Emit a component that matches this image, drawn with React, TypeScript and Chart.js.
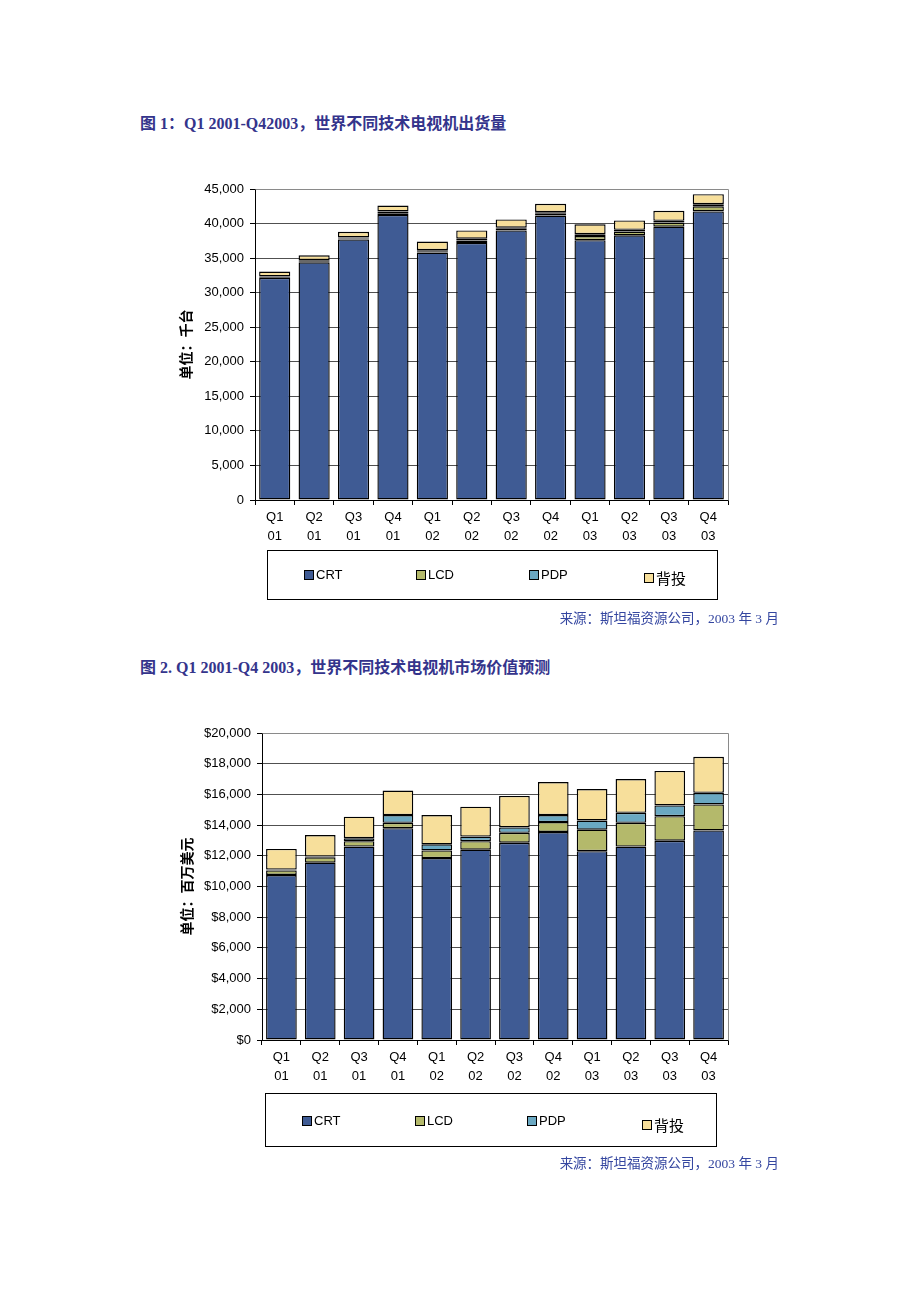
import React, { useEffect, useRef } from "react";
import { Chart, registerables } from "chart.js";

Chart.register(...registerables);

// ---------- data ----------
const categories = ["Q1 01", "Q2 01", "Q3 01", "Q4 01", "Q1 02", "Q2 02", "Q3 02", "Q4 02", "Q1 03", "Q2 03", "Q3 03", "Q4 03"];
const seriesNames = ["CRT", "LCD", "PDP", "背投"];
const seriesColors = ["#3f5b94", "#b4b96b", "#6aa8c2", "#f7df9b"];

// Chart 1: shipments (thousand units)
const unitsCRT = [32150, 34400, 37700, 41250, 35800, 37200, 39000, 41150, 37600, 38300, 39550, 41750];
const unitsLCD = [100, 150, 150, 250, 200, 350, 250, 350, 600, 550, 600, 750];
const unitsPDP = [100, 150, 150, 250, 150, 250, 150, 150, 250, 250, 250, 300];
const unitsRP = [700, 700, 800, 850, 1250, 1200, 1200, 1200, 1450, 1350, 1450, 1450];
const unitsMax = 45000;
const unitsStep = 5000;

// Chart 2: market value (million USD)
const valueCRT = [10750, 11550, 12600, 13800, 11850, 12400, 12850, 13550, 12300, 12600, 12980, 13650];
const valueLCD = [300, 350, 350, 350, 500, 550, 650, 650, 1400, 1550, 1600, 1700];
const valuePDP = [50, 50, 200, 500, 400, 300, 350, 450, 600, 650, 700, 750];
const valueRP = [1350, 1400, 1400, 1600, 1900, 1950, 2050, 2150, 2050, 2200, 2250, 2350];
const valueMax = 20000;
const valueStep = 2000;

const title1 = "图 1：Q1 2001-Q42003，世界不同技术电视机出货量";
const title2 = "图 2. Q1 2001-Q4 2003，世界不同技术电视机市场价值预测";
const yTitle1 = "单位：千台";
const yTitle2 = "单位：百万美元";
const sourceText = "来源：斯坦福资源公司，2003 年 3 月";

// ---------- plugins ----------
const framePlugin = {
  id: "frame",
  afterDraw(chart: any, _args: any, opts: any) {
    const { ctx, chartArea } = chart;
    const { left, top, right, bottom } = chartArea;
    ctx.save();
    ctx.strokeStyle = "#8a8a8a";
    ctx.lineWidth = 1;
    ctx.beginPath();
    ctx.moveTo(Math.round(left) + 0.5, Math.round(top) + 0.5);
    ctx.lineTo(Math.round(right) + 0.5, Math.round(top) + 0.5);
    ctx.lineTo(Math.round(right) + 0.5, Math.round(bottom) + 0.5);
    ctx.stroke();
    ctx.restore();

    // legend box
    const lg = opts.legend;
    if (!lg) return;
    ctx.save();
    ctx.strokeStyle = "#000";
    ctx.lineWidth = 1;
    ctx.strokeRect(lg.x + 0.5, lg.y + 0.5, lg.w, lg.h);
    chart.data.datasets.forEach((ds: any, i: number) => {
      const sx = lg.itemX[i];
      const sy = lg.itemY[i];
      ctx.fillStyle = ds.backgroundColor;
      ctx.fillRect(sx, sy, 10, 10);
      ctx.strokeStyle = "#000";
      ctx.strokeRect(sx + 0.5, sy + 0.5, 9, 9);
      const isCJK = /[\u4e00-\u9fff]/.test(ds.label);
      ctx.fillStyle = "#000";
      ctx.textBaseline = "middle";
      ctx.textAlign = "left";
      ctx.font = isCJK ? "15px 'Noto Sans CJK SC'" : "13px 'Liberation Sans', Arial";
      ctx.fillText(ds.label, sx + 12, sy + 5);
    });
    ctx.restore();
  },
};

type Layout = {
  yWidth: number;
  padTop: number;
  padRight: number;
  padBottom: number;
  xHeight: number;
  titlePad: number;
  legend: { x: number; y: number; w: number; h: number; itemX: number[]; itemY: number[] };
};

function StackedChart(props: {
  left: number;
  top: number;
  width: number;
  height: number;
  data: number[][];
  yMax: number;
  yStep: number;
  prefix: string;
  yTitle: string;
  layout: Layout;
}) {
  const ref = useRef<HTMLCanvasElement | null>(null);
  useEffect(() => {
    if (!ref.current) return;
    const L = props.layout;
    const chart = new Chart(ref.current, {
      type: "bar",
      data: {
        labels: categories.map((c) => c.split(" ")),
        datasets: props.data.map((d, i) => ({
          label: seriesNames[i],
          data: d,
          backgroundColor: seriesColors[i],
          borderColor: "#000",
          borderWidth: 1.4,
          borderSkipped: false,
          barPercentage: 0.79,
          categoryPercentage: 1,
        })),
      },
      options: {
        responsive: false,
        animation: false,
        devicePixelRatio: 1,
        layout: { padding: { left: 0, top: L.padTop, right: L.padRight, bottom: L.padBottom } },
        plugins: {
          legend: { display: false },
          tooltip: { enabled: false },
          frame: { legend: L.legend },
        } as any,
        scales: {
          x: {
            stacked: true,
            grid: { display: true, drawOnChartArea: false, drawTicks: true, tickLength: 5, color: "#000", offset: true },
            border: { display: true, color: "#000", width: 1 },
            ticks: {
              color: "#000",
              font: { family: "'Liberation Sans', Arial", size: 13, lineHeight: 1.45 },
              padding: 3,
              maxRotation: 0,
              autoSkip: false,
            },
            afterFit: (s: any) => {
              s.height = L.xHeight;
            },
          },
          y: {
            stacked: true,
            min: 0,
            max: props.yMax,
            grid: { color: "#505050", tickLength: 5, drawTicks: true, tickColor: "#000" },
            border: { display: true, color: "#000", width: 1 },
            ticks: {
              stepSize: props.yStep,
              color: "#000",
              font: { family: "'Liberation Sans', Arial", size: 13 },
              padding: 6,
              callback: (v: any) => props.prefix + Number(v).toLocaleString("en-US"),
            },
            title: {
              display: true,
              text: props.yTitle,
              color: "#000",
              font: { family: "'Noto Sans CJK SC'", size: 14, weight: "bold" },
              padding: { top: L.titlePad, bottom: 0 },
            },
            afterFit: (s: any) => {
              s.width = L.yWidth;
            },
          },
        },
      },
      plugins: [framePlugin],
    });
    return () => chart.destroy();
  }, []);
  return (
    <canvas
      ref={ref}
      width={props.width}
      height={props.height}
      style={{ position: "absolute", left: props.left, top: props.top, width: props.width, height: props.height }}
    />
  );
}

const titleStyle: React.CSSProperties = {
  position: "absolute",
  left: 140,
  fontFamily: "'Liberation Serif', 'Noto Sans CJK SC', serif",
  fontWeight: "bold",
  fontSize: 16,
  lineHeight: "20px",
  color: "#34348c",
  whiteSpace: "nowrap",
};

const sourceStyle: React.CSSProperties = {
  position: "absolute",
  right: 141,
  fontFamily: "'Liberation Serif', 'Noto Sans CJK SC', serif",
  fontSize: 13.5,
  lineHeight: "18px",
  color: "#3446a0",
  whiteSpace: "nowrap",
};

export default function App() {
  return (
    <div style={{ position: "absolute", left: 0, top: 0, width: 920, height: 1302, background: "#fff" }}>
      <div style={{ ...titleStyle, top: 114 }}>{title1}</div>
      <StackedChart
        left={150}
        top={175}
        width={600}
        height={440}
        data={[unitsCRT, unitsLCD, unitsPDP, unitsRP]}
        yMax={unitsMax}
        yStep={unitsStep}
        prefix=""
        yTitle={yTitle1}
        layout={{
          yWidth: 105,
          padTop: 14,
          padRight: 22,
          padBottom: 70,
          xHeight: 45,
          titlePad: 27,
          legend: { x: 117, y: 375, w: 450, h: 49, itemX: [154, 266, 379, 494], itemY: [395, 395, 395, 398] },
        }}
      />
      <div style={{ ...sourceStyle, top: 610 }}>{sourceText}</div>

      <div style={{ ...titleStyle, top: 658 }}>{title2}</div>
      <StackedChart
        left={150}
        top={715}
        width={600}
        height={450}
        data={[valueCRT, valueLCD, valuePDP, valueRP]}
        yMax={valueMax}
        yStep={valueStep}
        prefix="$"
        yTitle={yTitle2}
        layout={{
          yWidth: 112,
          padTop: 18,
          padRight: 22,
          padBottom: 80,
          xHeight: 45,
          titlePad: 28,
          legend: { x: 115, y: 378, w: 451, h: 53, itemX: [152, 265, 377, 492], itemY: [401, 401, 401, 405] },
        }}
      />
      <div style={{ ...sourceStyle, top: 1155 }}>{sourceText}</div>
    </div>
  );
}
